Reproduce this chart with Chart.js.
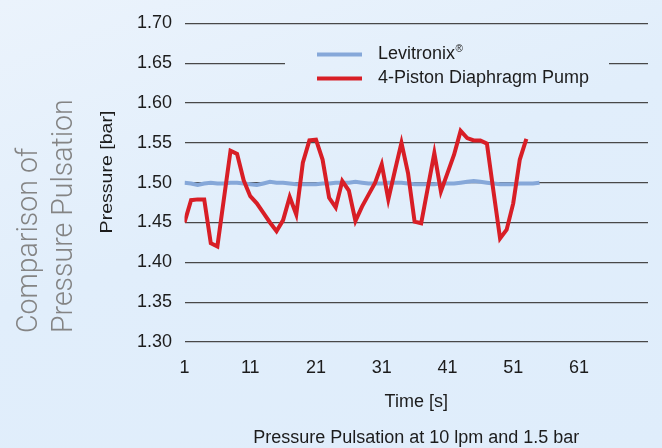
<!DOCTYPE html>
<html>
<head>
<meta charset="utf-8">
<script src="https://cdn.jsdelivr.net/npm/chart.js@4"></script>
<style>
  html, body { margin: 0; padding: 0; }
  body {
    width: 662px; height: 448px; overflow: hidden;
    background: linear-gradient(160deg, #ebf3fc 0%, #e1eefb 45%, #dfedfb 100%);
  }
  #wrap { position: relative; width: 662px; height: 448px; }
</style>
</head>
<body>
<div id="wrap"><canvas id="pulseChart" width="662" height="448"></canvas></div>
<script>
// time in seconds (category positions along the x axis)
var seconds = [];
for (var s = 1; s <= 55; s++) seconds.push(s);

var xTickLabels = [1, 11, 21, 31, 41, 51, 61];

var levitronix = [
    1.500, 1.499, 1.497, 1.499, 1.500, 1.499, 1.499, 1.500, 1.500, 1.499,
    1.498, 1.497, 1.499, 1.501, 1.500, 1.500, 1.499, 1.498, 1.498, 1.498,
    1.498, 1.499, 1.499, 1.500, 1.500, 1.500, 1.501, 1.500, 1.499, 1.499,
    1.499, 1.500, 1.500, 1.500, 1.499, 1.498, 1.498, 1.498, 1.498, 1.499,
    1.499, 1.499, 1.500, 1.501, 1.502, 1.501, 1.500, 1.499, 1.498, 1.498,
    1.498, 1.499, 1.499, 1.499, 1.500
];

var pistonPump = [
    1.450, 1.478, 1.479, 1.479, 1.424, 1.420, 1.480, 1.540, 1.536, 1.503,
    1.483, 1.474, 1.462, 1.450, 1.439, 1.453, 1.482, 1.460, 1.525, 1.553,
    1.554, 1.529, 1.481, 1.469, 1.502, 1.490, 1.452, 1.470, 1.485, 1.500,
    1.523, 1.479, 1.515, 1.550, 1.512, 1.451, 1.449, 1.493, 1.537, 1.489,
    1.512, 1.535, 1.565, 1.556, 1.553, 1.553, 1.549, 1.489, 1.430, 1.441,
    1.474, 1.529, 1.555
];

var FONT = "'Liberation Sans', Arial, Helvetica, sans-serif";
var textColor = '#1c1c1c';

// legend drawn inside the plot, clearing the grid line behind it
var insideLegend = {
    id: 'insideLegend',
    beforeDatasetsDraw: function (chart) {
        var ctx = chart.ctx;
        ctx.save();
        ctx.clearRect(285, 33, 324, 60);
        var y0 = 54.5, gap = 24;
        chart.data.datasets.forEach(function (ds, i) {
            var y = y0 + i * gap;
            ctx.strokeStyle = ds.borderColor;
            ctx.lineWidth = ds.borderWidth;
            ctx.beginPath();
            ctx.moveTo(317, y);
            ctx.lineTo(362, y);
            ctx.stroke();
            ctx.fillStyle = textColor;
            ctx.textBaseline = 'middle';
            ctx.textAlign = 'left';
            var label = ds.label;
            var mark = '';
            if (label.slice(-1) === '\u00ae') { mark = '\u00ae'; label = label.slice(0, -1); }
            ctx.font = '18px ' + FONT;
            ctx.fillText(label, 378, y);
            if (mark) {
                var w = ctx.measureText(label).width;
                ctx.font = '10px ' + FONT;
                ctx.fillText(mark, 378 + w + 0.5, y - 5);
            }
        });
        ctx.restore();
    }
};

// big rotated heading at the left, plus the y axis title
var sideHeading = {
    id: 'sideHeading',
    afterDraw: function (chart) {
        var ctx = chart.ctx;
        ctx.save();
        ctx.fillStyle = '#848484';
        ctx.font = '300 30px Roboto, ' + FONT;
        ctx.textBaseline = 'alphabetic';
        ctx.textAlign = 'left';
        [['Comparison of', 37], ['Pressure Pulsation', 72]].forEach(function (line) {
            ctx.save();
            ctx.translate(line[1], 333);
            ctx.rotate(-Math.PI / 2);
            ctx.scale(0.95, 1);
            ctx.fillText(line[0], 0, 0);
            ctx.restore();
        });

        ctx.fillStyle = textColor;
        ctx.font = '17px ' + FONT;
        ctx.textBaseline = 'middle';
        ctx.textAlign = 'center';
        ctx.translate(107.5, 172);
        ctx.rotate(-Math.PI / 2);
        ctx.scale(1.15, 1);
        ctx.fillText('Pressure [bar]', 0, 0);
        ctx.restore();
    }
};

var ctx = document.getElementById('pulseChart').getContext('2d');
var pulseChart = new Chart(ctx, {
    type: 'line',
    data: {
        labels: seconds,
        datasets: [{
            label: 'Levitronix\u00ae',
            data: levitronix,
            borderColor: '#86a8d9',
            borderWidth: 4,
            order: 1
        }, {
            label: '4-Piston Diaphragm Pump',
            data: pistonPump,
            borderColor: '#d81e26',
            borderWidth: 4,
            order: 0
        }]
    },
    options: {
        responsive: false,
        animation: false,
        layout: { padding: { left: 93, right: 14, top: 0, bottom: 0 } },
        elements: {
            point: { radius: 0 },
            line: { tension: 0, borderCapStyle: 'butt', borderJoinStyle: 'miter' }
        },
        plugins: {
            legend: { display: false },
            tooltip: { enabled: false }
        },
        scales: {
            x: {
                type: 'linear',
                min: 1,
                max: 71.5,
                grid: { display: false },
                border: { display: false },
                afterBuildTicks: function (scale) {
                    scale.ticks = xTickLabels.map(function (v) { return { value: v }; });
                },
                afterFit: function (scale) { scale.height = 106; },
                ticks: {
                    color: textColor,
                    font: { family: FONT, size: 18 },
                    padding: 7,
                    maxRotation: 0
                },
                title: {
                    display: true,
                    text: ['Time [s]', '', 'Pressure Pulsation at 10 lpm and 1.5 bar'],
                    color: textColor,
                    font: { family: FONT, size: 18, lineHeight: 1 },
                    padding: { top: 0, bottom: 1 }
                }
            },
            y: {
                min: 1.3,
                max: 1.7,
                grid: { color: '#484848', lineWidth: 1.2, drawTicks: false },
                border: { display: false },
                afterFit: function (scale) { scale.width = 91.5; },
                ticks: {
                    stepSize: 0.05,
                    color: textColor,
                    font: { family: FONT, size: 18 },
                    padding: 12.5,
                    callback: function (v) { return v.toFixed(2); }
                },
                title: { display: false }
            }
        }
    },
    plugins: [insideLegend, sideHeading]
});
</script>
</body>
</html>
